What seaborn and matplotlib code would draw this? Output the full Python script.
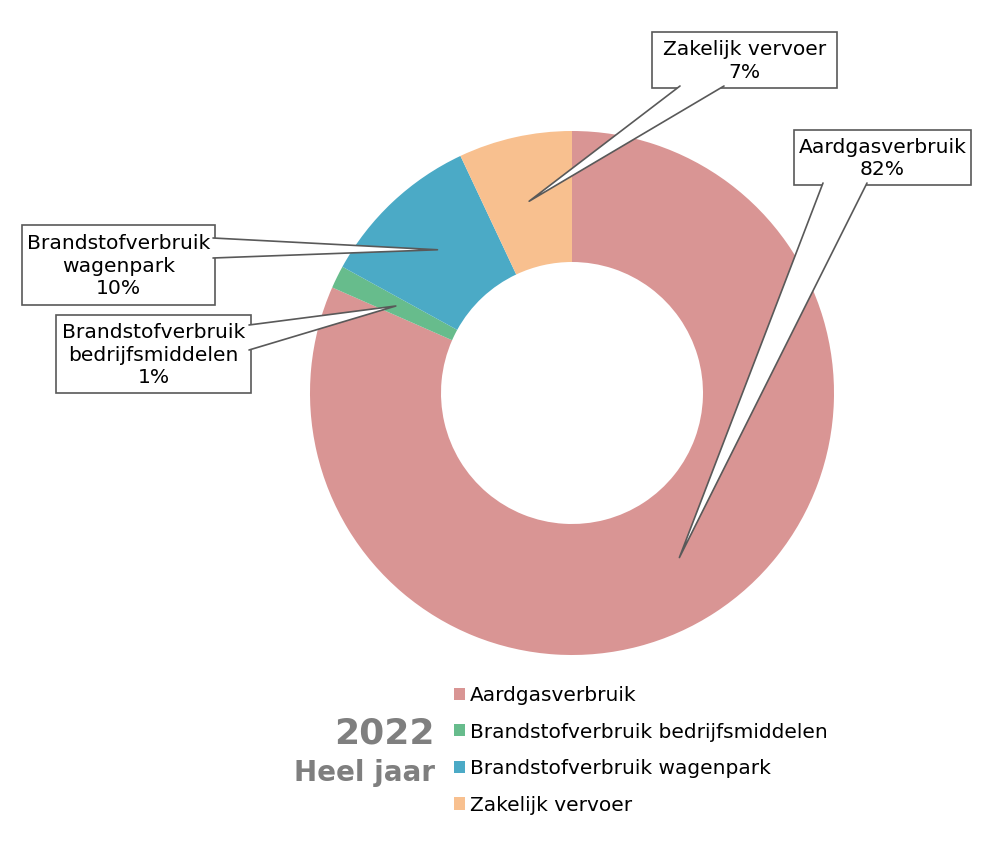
import numpy as np
import seaborn as sns
from matplotlib import pyplot as plt
from matplotlib.patches import Patch, Rectangle, Polygon

categories = ["Aardgasverbruik", "Brandstofverbruik bedrijfsmiddelen",
              "Brandstofverbruik wagenpark", "Zakelijk vervoer"]
callout_names = ["Aardgasverbruik", "Brandstofverbruik\nbedrijfsmiddelen",
                 "Brandstofverbruik\nwagenpark", "Zakelijk vervoer"]
shares = [81.6, 1.4, 10.0, 7.0]
colors = ["#D99594", "#67BC8C", "#4BAAC6", "#F8C08F"]
title_year = "2022"
title_period = "Heel jaar"

sns.set_theme(style="white")
plt.rcParams["font.family"] = ["DejaVu Sans"]

# layout (pixel space of the 1000x841 canvas)
cx, cy, r_out, r_in = 572, 393, 262, 131
# box (x0, y0, x1, y1) and wedge base points on the box edge
boxes = [(794, 130, 971, 185), (56, 315, 251, 393), (22, 225, 215, 305), (652, 32, 837, 88)]
bases = [((823, 183), (867, 183)), ((249, 325), (249, 350)),
         ((213, 238), (213, 258)), ((680, 86), (724, 86))]

fig = plt.figure(figsize=(10, 8.41), dpi=100)
ax = fig.add_axes([0, 0, 1, 1])
ax.pie(shares, colors=colors, startangle=-90, counterclock=True,
       center=(cx, cy), radius=r_out,
       wedgeprops=dict(width=r_out - r_in, edgecolor="none"))
ax.set_xlim(0, 1000)
ax.set_ylim(841, 0)
ax.set_aspect("equal")
ax.axis("off")

# callouts
total = sum(shares)
start = 0.0
r_mid = (r_out + r_in) / 2
for name, val, box, base in zip(callout_names, shares, boxes, bases):
    mid = np.deg2rad((start + val / 2) / total * 360)
    start += val
    tip = (cx + r_mid * np.sin(mid), cy - r_mid * np.cos(mid))
    x0, y0, x1, y1 = box
    ax.add_patch(Rectangle((x0, y0), x1 - x0, y1 - y0, facecolor="white",
                           edgecolor="#595959", linewidth=1.2, zorder=3))
    ax.add_patch(Polygon([base[0], tip, base[1]], closed=True, facecolor="white",
                         edgecolor="none", zorder=4))
    ax.plot([base[0][0], tip[0], base[1][0]], [base[0][1], tip[1], base[1][1]],
            color="#595959", linewidth=1.2, zorder=5)
    ax.text((x0 + x1) / 2, (y0 + y1) / 2 + 1, f"{name}\n{round(val)}%",
            ha="center", va="center", fontsize=14.6, color="black",
            linespacing=1.22, zorder=6)

# legend
handles = [Patch(facecolor=c, edgecolor="none") for c in colors]
leg = ax.legend(handles, categories, loc="upper left", bbox_to_anchor=(454, 686),
                bbox_transform=ax.transData, frameon=False, fontsize=14.5,
                handlelength=0.55, handleheight=0.55, handletextpad=0.25,
                labelspacing=0.87, borderpad=0, borderaxespad=0)
for t in leg.get_texts():
    t.set_color("black")

ax.text(435, 733, title_year, ha="right", va="center", fontsize=26,
        fontweight="bold", color="#7F7F7F")
ax.text(435, 773, title_period, ha="right", va="center", fontsize=20,
        fontweight="bold", color="#7F7F7F")

fig.savefig("out.png", dpi=100)
